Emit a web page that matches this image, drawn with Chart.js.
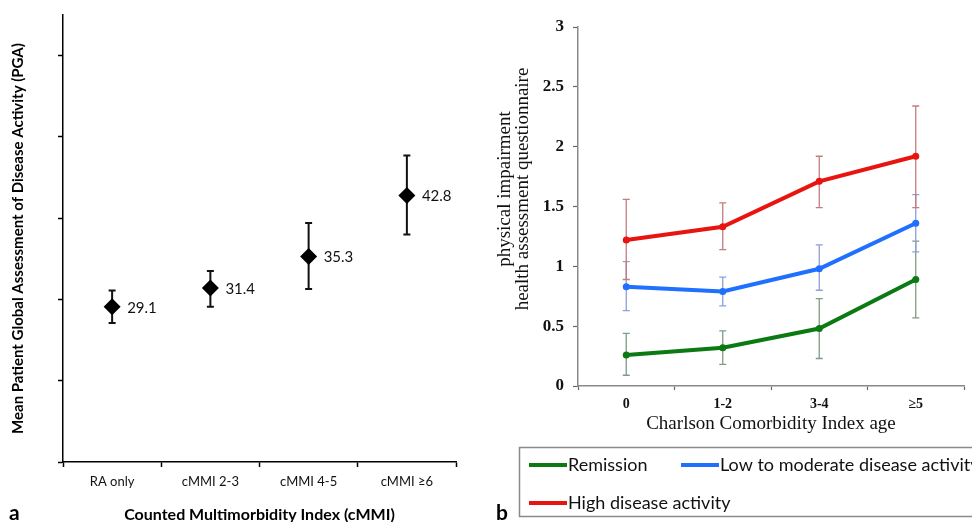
<!DOCTYPE html>
<html><head><meta charset="utf-8">
<script src="https://cdn.jsdelivr.net/npm/chart.js@4.4.0/dist/chart.umd.min.js"></script>
<style>
html,body{margin:0;padding:0;background:#fff;}
#wrap{position:relative;width:972px;height:522px;overflow:hidden;background:#fff;}
#ca{position:absolute;left:0;top:0;}
#cb{position:absolute;left:490px;top:0;}
</style></head><body>
<div id="wrap">
<canvas id="ca" width="480" height="522"></canvas>
<canvas id="cb" width="482" height="522"></canvas>
</div>
<script>
// ---- Panel a data ----
const catsA = ['RA only', 'cMMI 2-3', 'cMMI 4-5', 'cMMI \u22656'];
const pgaMean = [29.1, 31.4, 35.3, 42.8];
const pgaLow = [27.1, 29.1, 31.3, 38.0];
const pgaHigh = [31.1, 33.5, 39.4, 47.7];
const yTicksA = [10, 20, 30, 40, 50, 60];

// ---- Panel b data ----
const catsB = ['0', '1-2', '3-4', '\u22655'];
const remission = [0.26, 0.32, 0.48, 0.89];
const remissionLow = [0.09, 0.18, 0.23, 0.57];
const remissionHigh = [0.44, 0.46, 0.73, 1.21];
const lowMod = [0.83, 0.79, 0.98, 1.36];
const lowModLow = [0.63, 0.67, 0.80, 1.12];
const lowModHigh = [1.04, 0.91, 1.18, 1.60];
const highAct = [1.22, 1.33, 1.71, 1.92];
const highActLow = [0.89, 1.14, 1.49, 1.49];
const highActHigh = [1.56, 1.53, 1.92, 2.34];
const yTicksB = [0, 0.5, 1, 1.5, 2, 2.5, 3];
const yTickLabelsB = ['0', '0.5', '1', '1.5', '2', '2.5', '3'];

const SANS = 'Lato';
const SERIF = '"Liberation Serif"';

const errorBars = {
  id: 'errorBars',
  beforeDatasetsDraw(chart) {
    const {ctx, scales: {y}} = chart;
    chart.data.datasets.forEach((ds, i) => {
      if (!ds.errLow) return;
      const meta = chart.getDatasetMeta(i);
      ctx.save();
      ctx.strokeStyle = ds.errColor;
      ctx.lineWidth = ds.errWidth;
      const cap = ds.errCap;
      meta.data.forEach((pt, j) => {
        const px = pt.x;
        const yl = y.getPixelForValue(ds.errLow[j]);
        const yh = y.getPixelForValue(ds.errHigh[j]);
        ctx.beginPath();
        ctx.moveTo(px, yl); ctx.lineTo(px, yh);
        ctx.moveTo(px - cap, yl); ctx.lineTo(px + cap, yl);
        ctx.moveTo(px - cap, yh); ctx.lineTo(px + cap, yh);
        ctx.stroke();
      });
      ctx.restore();
    });
  }
};

const valueLabels = {
  id: 'valueLabels',
  afterDatasetsDraw(chart) {
    const {ctx} = chart;
    const ds = chart.data.datasets[0];
    const meta = chart.getDatasetMeta(0);
    ctx.save();
    ctx.font = '15px ' + SANS;
    ctx.fillStyle = '#111';
    ctx.textBaseline = 'middle';
    ctx.textAlign = 'left';
    meta.data.forEach((pt, j) => {
      ctx.fillText(ds.data[j].toFixed(1), pt.x + 15, pt.y + 1);
    });
    ctx.restore();
  },
  afterDraw(chart) {
    const {ctx} = chart;
    ctx.save();
    ctx.font = 'bold 21px ' + SANS;
    ctx.fillStyle = '#000';
    ctx.textBaseline = 'middle';
    ctx.textAlign = 'left';
    ctx.fillText('a', 9, 513);
    ctx.restore();
  }
};

new Chart(document.getElementById('ca'), {
  type: 'line',
  data: {
    labels: catsA,
    datasets: [{
      data: pgaMean,
      showLine: false,
      pointStyle: 'rectRot',
      pointRadius: 8.5,
      pointHoverRadius: 8.5,
      pointBackgroundColor: '#000',
      pointBorderColor: '#000',
      pointBorderWidth: 0,
      errLow: pgaLow,
      errHigh: pgaHigh,
      errColor: '#111',
      errWidth: 2,
      errCap: 3.5
    }]
  },
  options: {
    responsive: false,
    animation: false,
    events: [],
    layout: {padding: {top: 15, right: 24, bottom: 0, left: 0}},
    plugins: {legend: {display: false}, tooltip: {enabled: false}},
    scales: {
      x: {
        type: 'category',
        offset: true,
        grid: {display: true, drawOnChartArea: false, offset: true, tickLength: 5, tickColor: '#000', tickWidth: 1.5},
        border: {color: '#000', width: 1.5},
        ticks: {font: {family: SANS, size: 13}, color: '#111', padding: 7},
        title: {display: true, text: 'Counted Multimorbidity Index (cMMI)', font: {family: SANS, size: 16, weight: 'bold'}, color: '#000', padding: {top: 0, bottom: -2}},
        afterFit: s => { s.height = 60; }
      },
      y: {
        min: 10,
        max: 65,
        afterBuildTicks: s => { s.ticks = yTicksA.map(v => ({value: v})); },
        ticks: {display: false},
        grid: {drawOnChartArea: false, tickLength: 5, tickColor: '#000', tickWidth: 1.5},
        border: {color: '#000', width: 1.5},
        title: {display: true, text: 'Mean Patient Global Assessment of Disease Activity (PGA)', font: {family: SANS, size: 15, weight: 'bold'}, color: '#000', padding: {top: 9, bottom: 0}},
        afterFit: s => { s.width = 63; }
      }
    }
  },
  plugins: [errorBars, valueLabels]
});

const panelB = {
  id: 'panelB',
  afterDraw(chart) {
    const {ctx} = chart;
    ctx.save();
    // y-axis title (two lines)
    ctx.fillStyle = '#111';
    ctx.font = '19px ' + SERIF;
    ctx.textAlign = 'center';
    ctx.textBaseline = 'middle';
    ctx.translate(15, 189);
    ctx.rotate(-Math.PI / 2);
    ctx.fillText('physical impairment', 0, 0);
    ctx.fillText('health assessment questionnaire', 0, 18);
    ctx.restore();

    // legend box
    ctx.save();
    ctx.strokeStyle = '#8a8a8a';
    ctx.lineWidth = 1.5;
    ctx.strokeRect(29.5, 447.5, 600, 69);
    const items = [
      {ds: 0, x: 39, y: 465},
      {ds: 1, x: 191, y: 465},
      {ds: 2, x: 39, y: 503}
    ];
    ctx.font = '18px ' + SANS;
    ctx.textBaseline = 'middle';
    ctx.textAlign = 'left';
    items.forEach(it => {
      const ds = chart.data.datasets[it.ds];
      ctx.strokeStyle = ds.borderColor;
      ctx.lineWidth = 4;
      ctx.beginPath();
      ctx.moveTo(it.x, it.y); ctx.lineTo(it.x + 38, it.y);
      ctx.stroke();
      ctx.fillStyle = '#111';
      ctx.fillText(ds.label, it.x + 39, it.y);
    });
    ctx.font = 'bold 21px ' + SANS;
    ctx.fillStyle = '#000';
    ctx.fillText('b', 6, 513);
    ctx.restore();
  }
};

function lineDs(label, data, lo, hi, color, errColor) {
  return {
    label, data,
    borderColor: color, backgroundColor: color,
    borderWidth: 4,
    pointRadius: 3.5, pointHoverRadius: 3.5,
    pointBackgroundColor: color, pointBorderColor: color, pointBorderWidth: 0,
    tension: 0,
    errLow: lo, errHigh: hi, errColor: errColor, errWidth: 1.3, errCap: 3.5
  };
}

new Chart(document.getElementById('cb'), {
  type: 'line',
  data: {
    labels: catsB,
    datasets: [
      lineDs('Remission', remission, remissionLow, remissionHigh, '#0b7a12', '#7f9c86'),
      lineDs('Low to moderate disease activity', lowMod, lowModLow, lowModHigh, '#2070ff', '#8e9ed8'),
      lineDs('High disease activity', highAct, highActLow, highActHigh, '#e8140f', '#c47c80')
    ]
  },
  options: {
    responsive: false,
    animation: false,
    events: [],
    layout: {padding: {top: 27, right: 8, bottom: 82, left: 0}},
    plugins: {legend: {display: false}, tooltip: {enabled: false}},
    scales: {
      x: {
        type: 'category',
        offset: true,
        grid: {display: true, drawOnChartArea: false, offset: true, tickLength: 4, tickColor: '#666', tickWidth: 1.2},
        border: {color: '#8a8a8a', width: 1.5},
        ticks: {font: {family: SERIF, size: 14, weight: 'bold'}, color: '#111', padding: 6},
        title: {display: true, text: 'Charlson Comorbidity Index age', font: {family: SERIF, size: 19}, color: '#111', padding: {top: 0, bottom: 5}},
        afterFit: s => { s.height = 54; }
      },
      y: {
        min: 0,
        max: 3,
        afterBuildTicks: s => { s.ticks = yTicksB.map(v => ({value: v})); },
        ticks: {
          font: {family: SERIF, size: 17, weight: 'bold'}, color: '#111', padding: 9,
          callback: (v, i) => yTickLabelsB[i]
        },
        grid: {drawOnChartArea: false, tickLength: 5, tickColor: '#666', tickWidth: 1.2},
        border: {color: '#8a8a8a', width: 1.5},
        afterFit: s => { s.width = 88; }
      }
    }
  },
  plugins: [errorBars, panelB]
});
</script>
</body></html>
